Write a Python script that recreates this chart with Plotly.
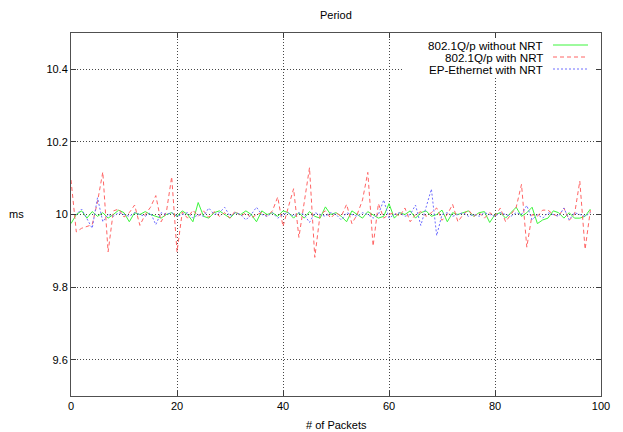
import plotly.graph_objects as go

packets = list(range(99))

without_nrt = [
    9.975, 10.0, 10.01, 9.99, 10.008, 9.995, 10.005, 9.99, 10.0, 10.012,
    10.005, 9.98, 10.005, 10.0, 10.008, 10.0, 9.995, 9.99, 10.0, 10.005,
    9.995, 10.01, 10.0, 9.98, 10.033, 9.995, 9.99, 10.005, 10.01, 10.0,
    9.99, 10.005, 10.0, 10.01, 10.0, 9.98, 10.01, 10.0, 10.005, 9.995,
    10.01, 10.005, 9.99, 10.005, 9.99, 10.008, 9.995, 9.99, 10.021, 10.0,
    10.005, 9.995, 9.98, 10.01, 10.0, 9.99, 10.008, 10.0, 9.99, 9.995,
    10.03, 9.99, 10.005, 10.0, 10.01, 9.99, 10.005, 10.01, 9.995, 10.0,
    10.012, 9.98, 10.005, 10.0, 10.005, 10.01, 9.995, 10.005, 10.008, 9.978,
    10.0, 10.005, 9.99, 10.005, 10.02, 9.995, 10.005, 10.02, 9.975, 9.985,
    9.99, 10.01, 10.005, 9.99, 10.005, 9.99, 9.99, 9.995, 10.015,
]

with_nrt = [
    10.095, 9.952, 9.962, 9.968, 9.972, 10.035, 10.117, 9.897, 10.01, 10.015,
    9.993, 10.005, 10.026, 9.97, 10.0, 10.02, 10.052, 9.98, 10.007, 10.104,
    9.897, 10.007, 9.99, 10.012, 9.995, 10.01, 9.992, 10.008, 9.995, 10.005,
    9.99, 10.01, 9.995, 10.005, 9.99, 10.0, 10.005, 9.995, 10.01, 10.048,
    9.967, 10.02, 10.071, 9.937, 10.03, 10.129, 9.882, 10.0, 10.01, 9.99,
    10.005, 9.995, 10.028, 9.975, 10.0, 10.04, 10.116, 9.913, 10.03, 9.99,
    10.0, 10.005, 9.995, 10.018, 9.98, 10.0, 10.008, 9.995, 10.005, 10.018,
    9.984, 10.0, 10.028, 9.98, 10.0, 10.012, 9.995, 10.005, 9.99, 10.005,
    9.995, 10.018, 9.98, 10.0, 10.02, 10.083, 9.91, 10.0, 9.995, 10.012,
    10.012, 10.0, 9.995, 10.018, 9.984, 10.0, 10.092, 9.904, 10.012,
]

ep_ethernet = [
    10.0, 10.0, 10.015, 9.99, 9.962, 10.046, 9.98, 10.0, 9.995, 10.005,
    10.0, 9.995, 10.005, 10.0, 9.995, 10.005, 9.972, 10.005, 10.0, 10.005,
    9.995, 10.0, 10.005, 9.99, 10.0, 9.995, 10.018, 10.0, 10.005, 10.02,
    9.995, 10.005, 10.0, 9.985, 10.0, 10.02, 10.0, 9.995, 10.005, 9.99,
    10.0, 10.005, 9.995, 10.005, 10.0, 9.978, 10.005, 10.0, 9.995, 10.005,
    10.0, 9.985, 10.005, 10.0, 9.995, 10.005, 10.0, 9.99, 10.0, 10.04,
    9.99, 10.0, 10.005, 9.995, 10.0, 10.026, 9.97, 10.02, 10.07, 9.942,
    10.0, 10.005, 9.995, 10.0, 10.005, 9.995, 10.0, 9.995, 10.005, 10.0,
    9.995, 10.005, 10.0, 9.995, 10.005, 10.0, 10.025, 9.985, 10.0, 9.99,
    10.005, 10.0, 9.995, 10.018, 9.985, 10.005, 10.0, 9.995, 10.005,
]

series_names = ["802.1Q/p without NRT", "802.1Q/p with NRT", "EP-Ethernet with NRT"]
x_ticks = [0, 20, 40, 60, 80, 100]
y_ticks = [9.6, 9.8, 10.0, 10.2, 10.4]
y_tick_labels = ["9.6", "9.8", "10", "10.2", "10.4"]

colors = ["rgb(60,245,60)", "rgb(255,100,100)", "rgb(110,110,255)"]
dashes = ["solid", "4px,3px", "2px,2px"]

fig = go.Figure()
for name, ys, c, d in zip(series_names, [without_nrt, with_nrt, ep_ethernet], colors, dashes):
    fig.add_trace(go.Scatter(x=packets, y=ys, mode="lines", name=name,
                             line=dict(color=c, width=1, dash=d), showlegend=False))

# The page body adds an 8px offset; work in page pixels and convert.
OFF = 8
PAGE_W, PAGE_H = 623, 432
W, H = PAGE_W - OFF, PAGE_H - OFF
PL, PR, PT, PB = 71, 601, 33, 396          # plot box in page pixels
L, T = PL - OFF, PT - OFF
R, B = PAGE_W - PR, PAGE_H - PB
pw, ph = PR - PL, PB - PT

def px(xp):
    return (xp - PL) / pw

def py(yp):
    return 1 - (yp - PT) / ph

font = dict(family="Liberation Sans, Arial, sans-serif", size=11, color="black")
legend_font = dict(family="Liberation Sans, Arial, sans-serif", size=11.6, color="black")

annotations = []
shapes = [dict(type="rect", xref="paper", yref="paper", layer="above",
               x0=px(402), x1=px(595), y0=py(38), y1=py(76),
               fillcolor="white", line=dict(width=0))]
rows = [45, 57, 69]
for name, c, d, yr in zip(series_names, colors, dashes, rows):
    annotations.append(dict(x=px(545), y=py(yr), xref="paper", yref="paper", text=name,
                            showarrow=False, xanchor="right", yanchor="middle", font=legend_font))
    shapes.append(dict(type="line", xref="paper", yref="paper", layer="above",
                       x0=px(553), x1=px(588), y0=py(yr), y1=py(yr),
                       line=dict(color=c, width=1, dash=d)))

annotations.append(dict(x=px(16), y=py(214), xref="paper", yref="paper", text="ms",
                        showarrow=False, xanchor="center", yanchor="middle", font=font))
annotations.append(dict(x=0.5, y=py(15), xref="paper", yref="paper", text="Period",
                        showarrow=False, xanchor="center", yanchor="middle", font=font))
annotations.append(dict(x=0.5, y=py(425), xref="paper", yref="paper", text="# of Packets",
                        showarrow=False, xanchor="center", yanchor="middle", font=font))

fig.update_layout(
    width=W, height=H,
    margin=dict(l=L, r=R, t=T, b=B, autoexpand=False),
    paper_bgcolor="white", plot_bgcolor="white",
    font=font,
    annotations=annotations,
    shapes=shapes,
    xaxis=dict(range=[0, 100], tickvals=x_ticks, ticktext=[str(v) for v in x_ticks],
               automargin=False,
               showgrid=True, gridcolor="rgb(70,70,70)", griddash="1px,2px", gridwidth=1,
               showline=True, linecolor="rgb(80,80,80)", linewidth=1, mirror="ticks",
               ticks="inside", ticklen=5, tickcolor="rgb(60,60,60)", zeroline=False),
    yaxis=dict(range=[9.5, 10.5], tickvals=y_ticks, ticktext=y_tick_labels,
               automargin=False,
               showgrid=True, gridcolor="rgb(70,70,70)", griddash="1px,2px", gridwidth=1,
               showline=True, linecolor="rgb(80,80,80)", linewidth=1, mirror="ticks",
               ticks="inside", ticklen=5, tickcolor="rgb(60,60,60)", zeroline=False),
)

fig.write_html("out.html")
